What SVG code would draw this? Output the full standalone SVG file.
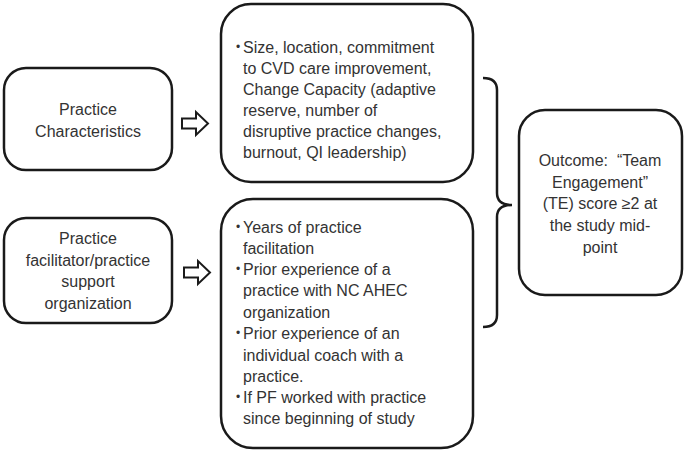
<svg xmlns="http://www.w3.org/2000/svg" width="685" height="452" viewBox="0 0 685 452">
<style>
.box{fill:#fff;stroke:#1a1a1a;stroke-width:2.5}
.arr{fill:#fff;stroke:#1a1a1a;stroke-width:2;stroke-linejoin:miter}
.br{fill:none;stroke:#1a1a1a;stroke-width:2.5}
text{font-family:"Liberation Sans",Arial,sans-serif;font-size:16px;fill:#333}
.c{text-anchor:middle}
.pre{white-space:pre}
.b{font-size:12px}
</style>
<rect width="685" height="452" fill="#fff"/>
<g id="practice-characteristics">
<rect class="box" x="4" y="68" width="168" height="102" rx="22"/>
<text class="c" x="88" y="115">Practice</text>
<text class="c" x="88" y="137">Characteristics</text>
</g>
<g id="practice-facilitator">
<rect class="box" x="4" y="218" width="168" height="105" rx="22"/>
<text class="c" x="88" y="244">Practice</text>
<text class="c" x="88" y="266">facilitator/practice</text>
<text class="c" x="88" y="287">support</text>
<text class="c" x="88" y="309">organization</text>
</g>
<g id="characteristics-detail">
<rect class="box" x="221" y="4" width="252" height="178" rx="30"/>
<text class="b" x="236" y="51">•</text>
<text x="243" y="53">Size, location, commitment</text>
<text x="243" y="74">to CVD care improvement,</text>
<text x="243" y="95">Change Capacity (adaptive</text>
<text x="243" y="116">reserve, number of</text>
<text x="243" y="137">disruptive practice changes,</text>
<text x="243" y="158">burnout, QI leadership)</text>
</g>
<g id="facilitator-detail">
<rect class="box" x="221" y="199" width="252" height="249" rx="32"/>
<text class="b" x="236" y="231">•</text>
<text x="243" y="233">Years of practice</text>
<text x="243" y="254">facilitation</text>
<text class="b" x="236" y="273">•</text>
<text x="243" y="275">Prior experience of a</text>
<text x="243" y="296">practice with NC AHEC</text>
<text x="243" y="318">organization</text>
<text class="b" x="236" y="337">•</text>
<text x="243" y="339">Prior experience of an</text>
<text x="243" y="361">individual coach with a</text>
<text x="243" y="382">practice.</text>
<text class="b" x="236" y="401">•</text>
<text x="243" y="403">If PF worked with practice</text>
<text x="243" y="424">since beginning of study</text>
</g>
<g id="outcome">
<rect class="box" x="519" y="110" width="163" height="185" rx="26"/>
<text class="c pre" x="600" y="166">Outcome:  “Team</text>
<text class="c" x="600" y="188">Engagement”</text>
<text class="c" x="600" y="209">(TE) score ≥2 at</text>
<text class="c" x="600" y="231">the study mid-</text>
<text class="c" x="600" y="253">point</text>
</g>
<g id="connectors">
<path class="arr" d="M182,118.5 H196 V112 L208,123.5 L196,135 V128.5 H182 Z"/>
<path class="arr" d="M184,267.5 H198 V261 L210,272.5 L198,284 V277.5 H184 Z"/>
<path class="br" d="M483,78 Q497,78 497,90 V193 Q497,205 512,205 Q497,205 497,217 V315 Q497,327 483,327"/>
</g>
</svg>
